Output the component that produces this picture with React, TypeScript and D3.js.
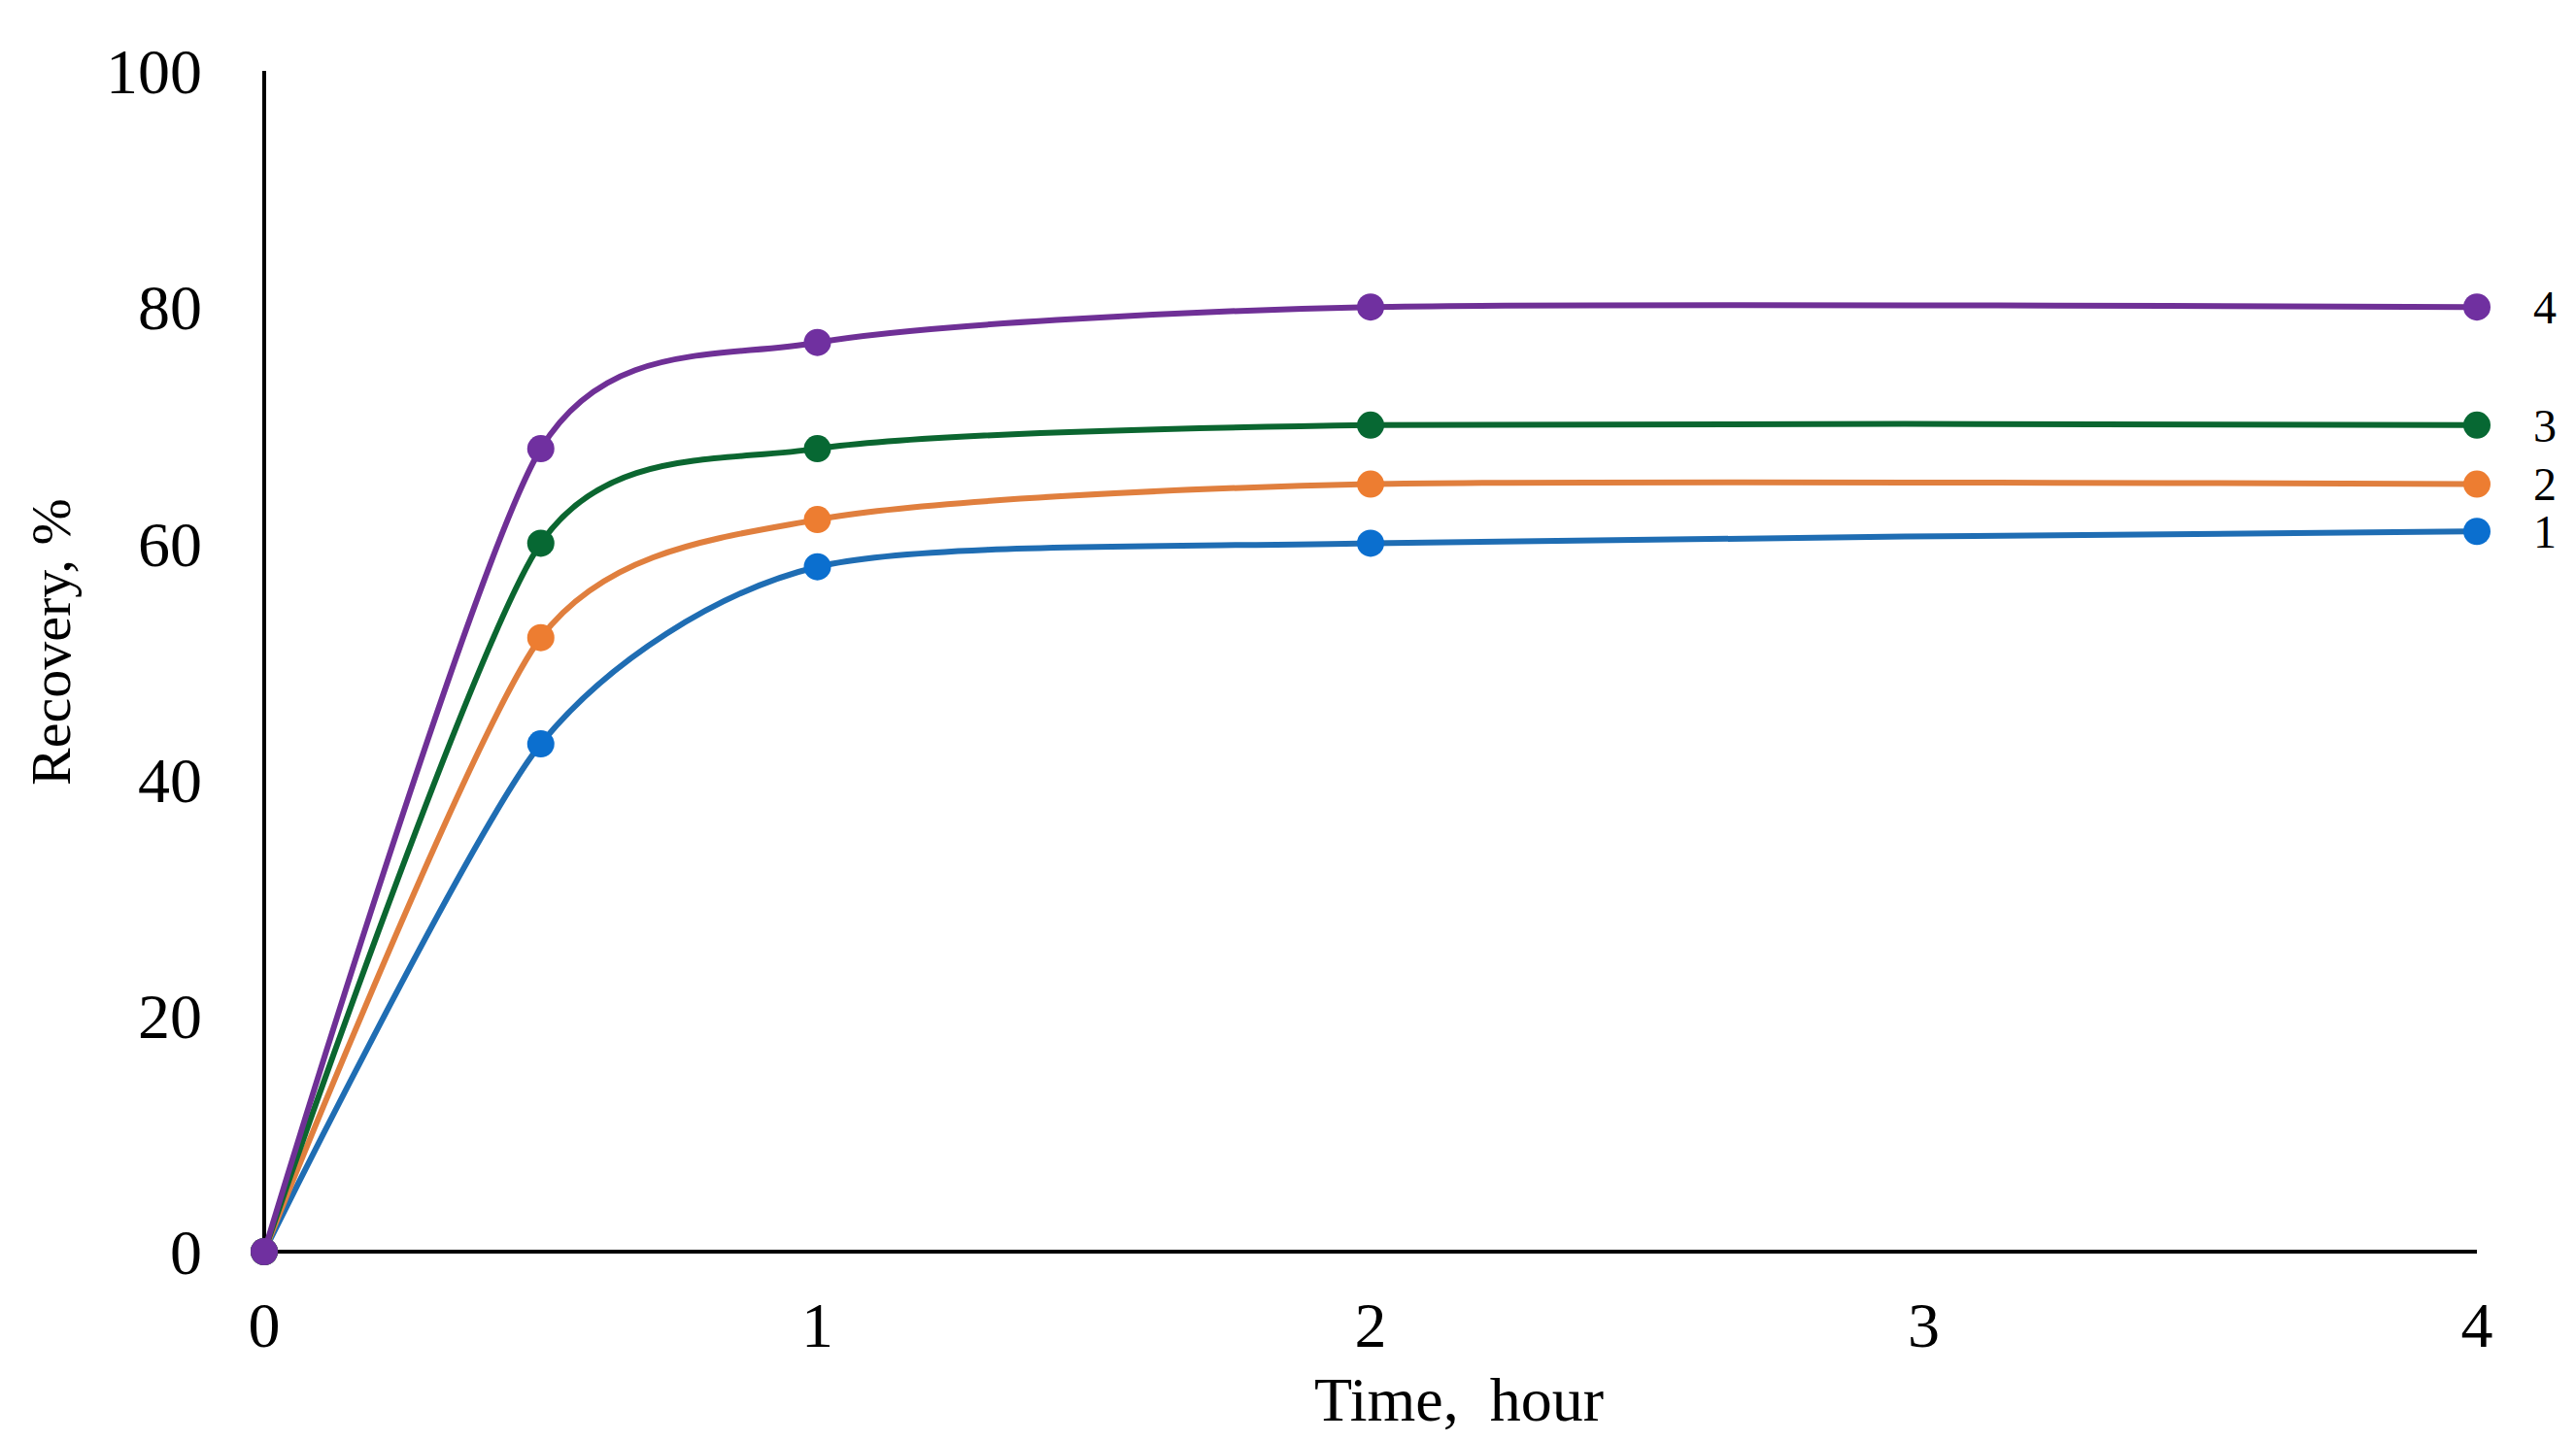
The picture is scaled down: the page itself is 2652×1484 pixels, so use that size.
import React, { useEffect, useRef } from "react";
import * as d3 from "d3";

const width = 2652;
const height = 1484;

// time, hour
const times = [0, 0.5, 1, 2, 4];

// recovery, %
const series1 = [0, 43, 58, 60, 61];
const series2 = [0, 52, 62, 65, 65];
const series3 = [0, 60, 68, 70, 70];
const series4 = [0, 68, 77, 80, 80];

const seriesNames = ["1", "2", "3", "4"];
const lineColors = ["#1f6db3", "#e07f3e", "#0b6630", "#6f3096"];
const markerColors = ["#0b6fcf", "#ed7d31", "#076833", "#7030a0"];

const xTicks = [0, 1, 2, 3, 4];
const yTicks = [0, 20, 40, 60, 80, 100];

const font = "'Liberation Serif', 'Times New Roman', serif";

export default function App() {
  const ref = useRef<SVGSVGElement>(null);

  useEffect(() => {
    const svg = d3.select(ref.current);
    svg.selectAll("*").remove();

    const x = d3.scaleLinear().domain([0, 4]).range([272, 2550]);
    const y = d3.scaleLinear().domain([0, 100]).range([1289, 73]);

    svg.append("rect").attr("width", width).attr("height", height).attr("fill", "white");

    // axes lines
    svg
      .append("line")
      .attr("x1", x(0))
      .attr("x2", x(0))
      .attr("y1", y(0))
      .attr("y2", y(100))
      .attr("stroke", "black")
      .attr("stroke-width", 4);
    svg
      .append("line")
      .attr("x1", x(0))
      .attr("x2", x(4))
      .attr("y1", y(0))
      .attr("y2", y(0))
      .attr("stroke", "black")
      .attr("stroke-width", 4);

    // tick labels
    svg
      .append("g")
      .selectAll("text")
      .data(yTicks)
      .join("text")
      .attr("x", 208)
      .attr("y", (d) => y(d))
      .attr("dy", "0.35em")
      .attr("text-anchor", "end")
      .attr("font-family", font)
      .attr("font-size", 66)
      .text((d) => d);

    svg
      .append("g")
      .selectAll("text")
      .data(xTicks)
      .join("text")
      .attr("x", (d) => x(d))
      .attr("y", 1364)
      .attr("dy", "0.35em")
      .attr("text-anchor", "middle")
      .attr("font-family", font)
      .attr("font-size", 66)
      .text((d) => d);

    // axis titles
    svg
      .append("text")
      .attr("x", 1502)
      .attr("y", 1441)
      .attr("dy", "0.35em")
      .attr("text-anchor", "middle")
      .attr("font-family", font)
      .attr("font-size", 64)
      .attr("xml:space", "preserve")
      .text("Time,  hour");

    svg
      .append("text")
      .attr("transform", `translate(52,661) rotate(-90)`)
      .attr("dy", "0.35em")
      .attr("text-anchor", "middle")
      .attr("font-family", font)
      .attr("font-size", 58)
      .text("Recovery, %");

    const all = [series1, series2, series3, series4];

    // Excel-like smoothed line
    const line = d3
      .line<number>()
      .curve(d3.curveCardinal.tension(0.28))
      .x((_, i) => x(times[i]))
      .y((d) => y(d));

    all.forEach((values, k) => {
      const g = svg.append("g");
      g.append("path")
        .datum(values)
        .attr("d", line)
        .attr("fill", "none")
        .attr("stroke", lineColors[k])
        .attr("stroke-width", 6)
        .attr("stroke-linejoin", "round");
      g.selectAll("circle")
        .data(values)
        .join("circle")
        .attr("cx", (_, i) => x(times[i]))
        .attr("cy", (d) => y(d))
        .attr("r", 14)
        .attr("fill", markerColors[k]);
      g.append("text")
        .attr("x", x(times[times.length - 1]) + 58)
        .attr("y", y(values[values.length - 1]))
        .attr("dy", "0.35em")
        .attr("font-family", font)
        .attr("font-size", 48)
        .text(seriesNames[k]);
    });
  }, []);

  return (
    <svg
      ref={ref}
      width={width}
      height={height}
      style={{ position: "absolute", left: 0, top: 0, display: "block" }}
    />
  );
}
